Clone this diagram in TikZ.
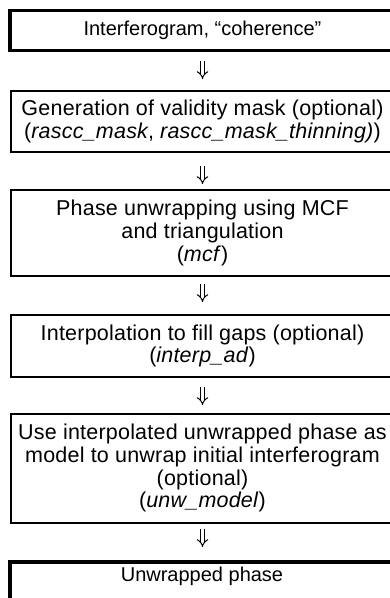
\documentclass[tikz,border=0pt]{standalone}
\usepackage{fontspec}
\usetikzlibrary{arrows.meta}
\setmainfont{Liberation Sans}
\newfontfamily\boxfont[LetterSpace=1]{Liberation Sans}
\begin{document}
\begin{tikzpicture}[x=1pt,y=-1pt,
  box/.style={draw, line width=2pt, inner sep=0pt, minimum width=383pt, align=center,
    font=\boxfont\fontsize{21.5}{22.7}\selectfont},
  thickbox/.style={box, line width=3pt, font=\fontsize{20}{22.7}\selectfont},
  dblarrow/.style={double, double distance=3pt, line width=1pt,
    -{Implies[length=4pt, width=10pt]}},
  thinline/.style={line width=1pt}]
\useasboundingbox (0,0) rectangle (389,598);
\node[thickbox, minimum width=386pt, minimum height=40pt] (b1) at (202.5,30.5) {Interferogram, “coherence”};
\node[box, minimum height=61pt] (b2) at (202.5,121.5) {Generation of validity mask (optional)\\(\textit{rascc\_mask}, \textit{rascc\_mask\_thinning)})};
\node[box, minimum height=86pt] (b3) at (202.5,233) {Phase unwrapping using MCF\\and triangulation\\(\textit{mcf})};
\node[box, minimum height=62pt] (b4) at (202.5,346) {Interpolation to fill gaps (optional)\\(\textit{interp\_ad})};
\node[box, minimum height=109.5pt] (b5) at (202.5,468.25) {Use interpolated unwrapped phase as\\model to unwrap initial interferogram\\(optional)\\(\textit{unw\_model})};
\node[box, line width=2.7pt, minimum width=386.3pt, minimum height=50pt] (b6) at (202.5,586.3) {};
\node[font=\fontsize{20}{22.7}\selectfont, inner sep=0pt] (t6) at (202,576) {Unwrapped phase};
% inner thin lines of the double borders
\draw[thinline] ([xshift=3pt,yshift=-1.5pt]b1.north west) -- ([xshift=3pt,yshift=1.5pt]b1.south west);
\draw[thinline] ([xshift=3.3pt,yshift=-3.3pt]b6.north west) -- ([xshift=3.3pt]b6.south west);
\draw[thinline] ([xshift=3.3pt,yshift=-3.3pt]b6.north west) -- ([yshift=-3.3pt]b6.north east);
% connectors
\draw[dblarrow, shorten <=9pt, shorten >=11pt] (b1.south) -- (b2.north);
\draw[dblarrow, shorten <=13pt, shorten >=5pt] (b2.south) -- (b3.north);
\draw[dblarrow, shorten <=7pt, shorten >=12pt] (b3.south) -- (b4.north);
\draw[dblarrow, shorten <=9pt, shorten >=7.5pt] (b4.south) -- (b5.north);
\draw[dblarrow, shorten <=5pt, shorten >=13pt] (b5.south) -- (b6.north);
\end{tikzpicture}
\end{document}
